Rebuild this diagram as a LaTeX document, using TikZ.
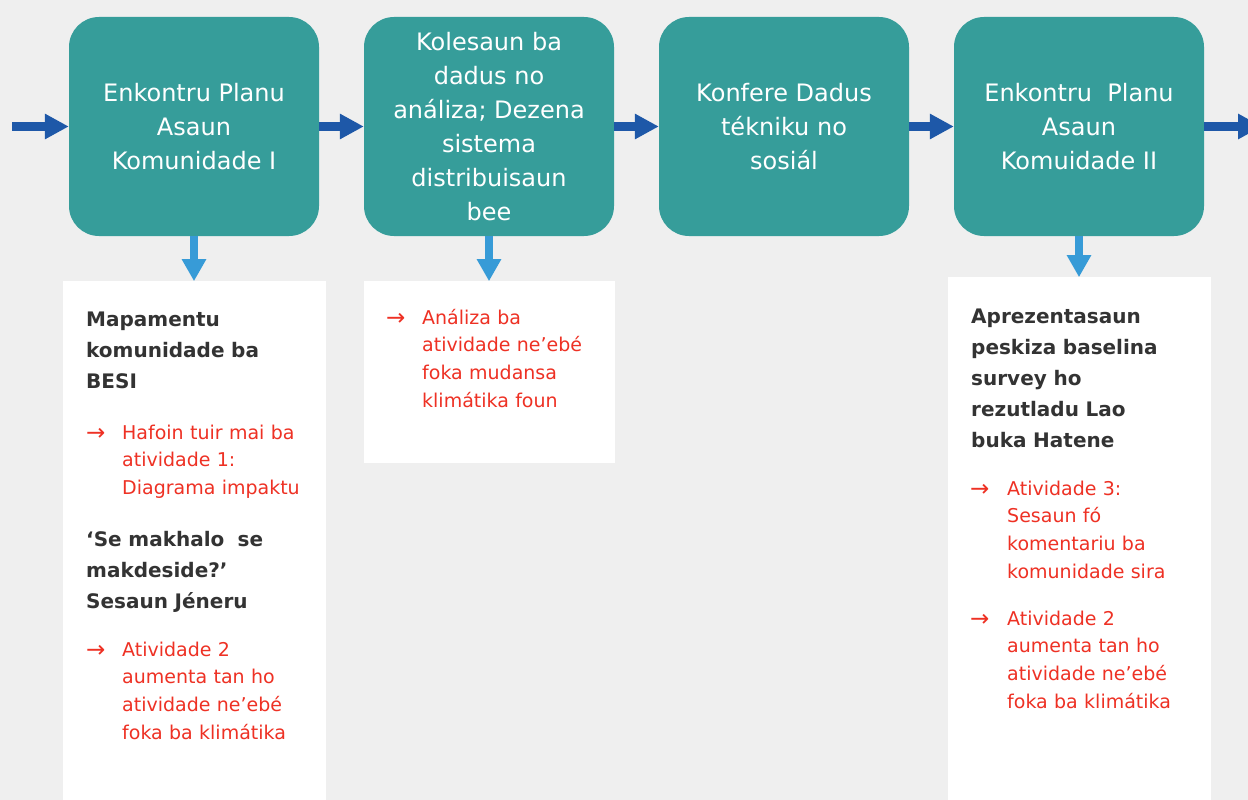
\documentclass[tikz,border=0pt]{standalone}
\usepackage{fontspec}
\setmainfont{DejaVu Sans}
\usepackage{tikz}
\usetikzlibrary{positioning}
\usetikzlibrary{arrows.meta}

\definecolor{pagegrey}{HTML}{EFEFEF}
\definecolor{boxteal}{HTML}{369D9A}
\definecolor{flowblue}{HTML}{1E58A8}
\definecolor{dropblue}{HTML}{379BD7}
\definecolor{notered}{HTML}{EE3124}
\definecolor{darktext}{HTML}{333333}

\tikzset{
  stepbox/.style={rectangle, rounded corners=30pt, fill=boxteal, text=white,
    minimum width=250pt, minimum height=219pt, inner sep=0pt, align=center,
    font=\fontsize{24}{34}\selectfont},
  panel/.style={rectangle, fill=white, inner sep=0pt},
  flow/.style={-{Triangle[length=24pt,width=24pt]}, line width=9pt, draw=flowblue},
  drop/.style={-{Triangle[length=22pt,width=23pt]}, line width=8pt, draw=dropblue},
  headtxt/.style={anchor=base west, inner sep=0pt, text=darktext, text width=230pt,
    align=left, font=\bfseries\fontsize{20}{31}\selectfont},
  notetxt/.style={anchor=base west, inner sep=0pt, text=notered, text width=190pt,
    align=left, font=\fontsize{19}{27.8}\selectfont},
  notearr/.style={anchor=base west, inner sep=0pt, text=notered,
    font=\fontsize{23}{26}\selectfont},
}

\begin{document}
\begin{tikzpicture}[x=1pt, y=-1pt]

    \fill[pagegrey] (0,0) rectangle (1248,800);
    \useasboundingbox (0,0) rectangle (1248,800);

    % Define nodes
    \node[stepbox]                        (enk1) at (194,126.5) {Enkontru Planu\\Asaun\\Komunidade I};
    \node[stepbox, right=44.6pt of enk1]  (kol)  {Kolesaun ba\\dadus no\\análiza; Dezena\\sistema\\distribuisaun\\bee};
    \node[stepbox, right=44.6pt of kol]   (konf) {Konfere Dadus\\tékniku no\\sosiál};
    \node[stepbox, right=44.6pt of konf]  (enk2) {Enkontru\ \ Planu\\Asaun\\Komuidade II};

    \node[panel, below=45pt of enk1, minimum width=263pt, minimum height=530pt] (p1) {};
    \node[panel, below=45pt of kol,  minimum width=251pt, minimum height=182pt] (p2) {};
    \node[panel, below=41pt of enk2, minimum width=263pt, minimum height=534pt] (p3) {};

    \coordinate (in)  at (12,126.5);
    \coordinate (out) at (1262,126.5);

    % Panel texts
    \node[headtxt] (h1) at (86,326) {Mapamentu\\komunidade ba\\BESI};
    \node[notearr] (a1) at (86,440) {→};
    \node[notetxt] (n1) at (122,439) {Hafoin tuir mai ba\\atividade 1:\\Diagrama impaktu};
    \node[headtxt] (h2) at (86,546) {‘Se makhalo\ \ se\\makdeside?’\\Sesaun Jéneru};
    \node[notearr] (a2) at (86,657) {→};
    \node[notetxt] (n2) at (122,656) {Atividade 2\\aumenta tan ho\\atividade ne’ebé\\foka ba klimátika};

    \node[notearr] (a3) at (386,325) {→};
    \node[notetxt] (n3) at (422,324) {Análiza ba\\atividade ne’ebé\\foka mudansa\\klimátika foun};

    \node[headtxt] (h3) at (971,323) {Aprezentasaun\\peskiza baselina\\survey ho\\rezutladu Lao\\buka Hatene};
    \node[notearr] (a4) at (970,496) {→};
    \node[notetxt] (n4) at (1007,495) {Atividade 3:\\Sesaun fó\\komentariu ba\\komunidade sira};
    \node[notearr] (a5) at (970,626) {→};
    \node[notetxt] (n5) at (1007,625) {Atividade 2\\aumenta tan ho\\atividade ne’ebé\\foka ba klimátika};

    % Connect the nodes
    \draw[flow] (in) -- (enk1.west);
    \draw[flow] (enk1) -- (kol);
    \draw[flow] (kol) -- (konf);
    \draw[flow] (konf) -- (enk2);
    \draw[flow] (enk2.east) -- (out);

    \draw[drop] (enk1) -- (p1.north);
    \draw[drop] (kol) -- (p2.north);
    \draw[drop] (enk2) -- (p3.north);
  \end{tikzpicture}
\end{document}
